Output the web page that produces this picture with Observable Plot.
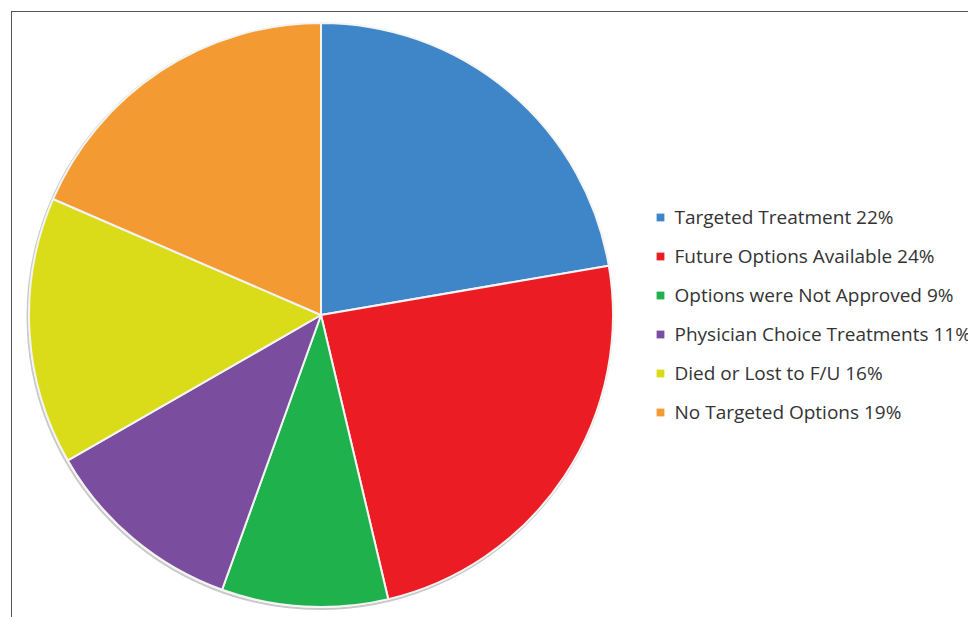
<!DOCTYPE html>
<html>
<head>
<meta charset="utf-8">
<script src="https://cdn.jsdelivr.net/npm/d3@7"></script>
<script src="https://cdn.jsdelivr.net/npm/@observablehq/plot@0.6"></script>
<style>
  html, body { margin: 0; padding: 0; background: #fff; }
  #wrap { position: relative; width: 968px; height: 617px; overflow: hidden; }
  #frame { position: absolute; left: 11px; top: 11px; width: 1000px; height: 700px; border-left: 1.5px solid #555; border-top: 1.5px solid #555; }
  #chart { position: absolute; left: 0; top: 0; }
</style>
</head>
<body>
<div id="wrap">
  <div id="frame"></div>
  <div id="chart"></div>
</div>
<script>
// Categories (clockwise from 12 o'clock)
const categories = [
  "Targeted Treatment",
  "Future Options Available",
  "Options were Not Approved",
  "Physician Choice Treatments",
  "Died or Lost to F/U",
  "No Targeted Options"
];
// Percent labels as printed in the legend
const percentLabels = ["22%", "24%", "9%", "11%", "16%", "19%"];
// Slice shares (angles)
const shares = [22.3, 24.0, 9.2, 11.2, 14.8, 18.5];
const colors = ["#3f86c8", "#ec1c24", "#1fb14c", "#7a4d9f", "#dbdc19", "#f39a33"];

const data = categories.map((c, i) => ({category: c, share: shares[i], label: `${c} ${percentLabels[i]}`}));

const cx = 321, cy = 315, radius = 292;

function pieMark(index, scales) {
  const pie = d3.pie().sort(null).value(d => d.share);
  const arc = d3.arc().innerRadius(0).outerRadius(radius);
  const g = d3.create("svg:g").attr("transform", `translate(${cx},${cy})`);
  g.append("circle").attr("r", radius + 0.5).attr("cx", -1).attr("cy", 1.5)
    .attr("fill", "none").attr("stroke", "#c9c9c9").attr("stroke-width", 2);
  g.selectAll("path").data(pie(data)).join("path")
    .attr("d", arc)
    .attr("fill", d => scales.color(d.data.category))
    .attr("stroke", "#f4f4f4")
    .attr("stroke-width", 2)
    .attr("stroke-linejoin", "round");
  return g.node();
}

const chart = Plot.plot({
  width: 968,
  height: 617,
  margin: 0,
  style: {background: "transparent", overflow: "visible"},
  color: {domain: categories, range: colors},
  y: {type: "point", domain: categories, range: [215, 413], padding: 0, axis: null},
  marks: [
    pieMark,
    Plot.dot(data, {y: "category", fill: "category", symbol: "square", r: 4.4, frameAnchor: "left", dx: 660}),
    Plot.text(data, {y: "category", text: "label", frameAnchor: "left", dx: 674, textAnchor: "start",
      fill: "#333333", fontSize: 19, fontFamily: "Open Sans", dy: 0})
  ]
});
document.getElementById("chart").appendChild(chart);
</script>
</body>
</html>
